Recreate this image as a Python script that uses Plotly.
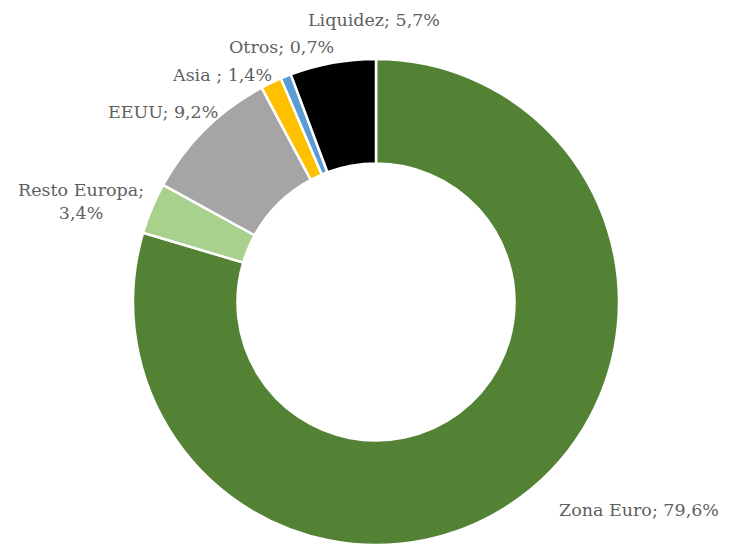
import plotly.graph_objects as go

categories = ["Zona Euro", "Resto Europa", "EEUU", "Asia ", "Otros", "Liquidez"]
values = [79.6, 3.4, 9.2, 1.4, 0.7, 5.7]
value_labels = ["79,6%", "3,4%", "9,2%", "1,4%", "0,7%", "5,7%"]
colors = ["#548235", "#A9D18E", "#A5A5A5", "#FFC000", "#5B9BD5", "#000000"]

W, H = 729, 544
OFF = 8  # page body margin

cx, cy, r = 376 - OFF, 302 - OFF, 243

fig = go.Figure(go.Pie(
    labels=categories,
    values=values,
    sort=False,
    direction="clockwise",
    rotation=0,
    hole=0.57,
    marker=dict(colors=colors, line=dict(color="white", width=2.5)),
    textinfo="none",
    showlegend=False,
    domain=dict(x=[(cx - r) / W, (cx + r) / W], y=[max(0, (H - cy - r) / H), (H - cy + r) / H]),
))

label_text = [
    "Zona Euro; 79,6%",
    "Resto Europa;<br>3,4%",
    "EEUU; 9,2%",
    "Asia ; 1,4%",
    "Otros; 0,7%",
    "Liquidez; 5,7%",
]
label_px = [(639, 508), (81, 199), (163, 110), (222, 73), (281, 45), (374, 18)]

for t, (px, py) in zip(label_text, label_px):
    fig.add_annotation(
        text=t, x=(px - OFF) / W, y=min(1, 1 - (py - OFF - 10) / H), xref="paper", yref="paper",
        showarrow=False, xanchor="center", yanchor="top", align="center",
        font=dict(family="DejaVu Serif", size=17.5, color="#5f5f5f"),
    )
    # adjust multi-line label anchor
    if "<br>" in t:
        fig.layout.annotations[-1].y = 1 - (py - OFF - 21) / H

fig.update_layout(
    width=W, height=H,
    margin=dict(l=0, r=0, t=0, b=0),
    paper_bgcolor="white", plot_bgcolor="white",
)

fig.write_html("out.html")
